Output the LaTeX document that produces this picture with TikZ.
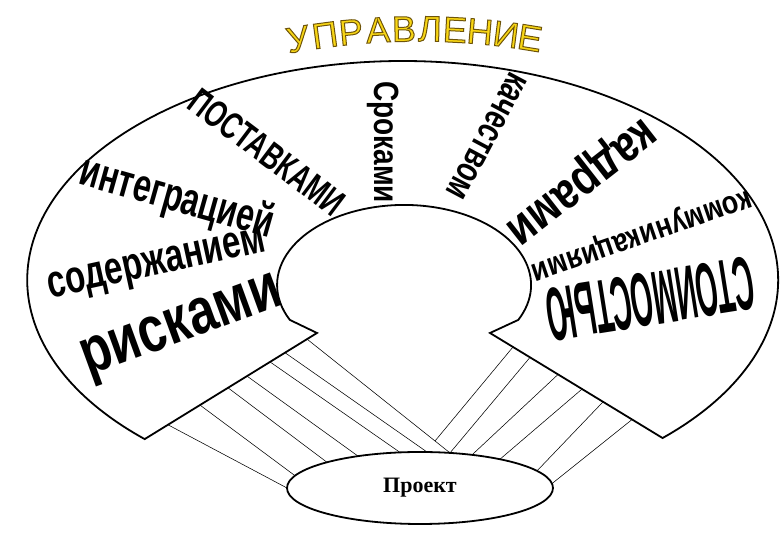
\documentclass[tikz,border=0pt]{standalone}
\usepackage{fontspec}
\setmainfont{Liberation Sans}
\newfontfamily\projfont{Liberation Serif}
\usetikzlibrary{shapes.geometric,calc}
\definecolor{titlefill}{RGB}{248,214,20}
\newcommand\vstretch[2]{\scalebox{1}[#1]{#2}}
\newcommand\outl[1]{\special{pdf:literal direct 0.43 0.33 0.04 RG 1.0 w 2 Tr}#1\special{pdf:literal direct 0 Tr}}
\begin{document}
\begin{tikzpicture}[x=1pt,y=1pt,
  shapeline/.style={line width=1.8pt, line join=miter},
  hatch/.style={line width=0.55pt},
  word/.style={inner sep=0pt, font=\bfseries\fontsize{#1}{#1}\selectfont},
  tl/.style={inner sep=0pt, font=\fontsize{36}{36}\selectfont}]
\useasboundingbox (0,0) rectangle (780,540);

% ---------- hatching (left group)
\coordinate (la1) at (168,115.2);  \coordinate (lb1) at (287,52);
\coordinate (la2) at (200,134.9);  \coordinate (lb2) at (295,64.3);
\coordinate (la3) at (228,152.2);  \coordinate (lb3) at (327,77.7);
\coordinate (la4) at (247,163.9);  \coordinate (lb4) at (358,83.9);
\coordinate (la5) at (270,178.1);  \coordinate (lb5) at (400,87.6);
\coordinate (la6) at (285,187.3);  \coordinate (lb6) at (427,88);
\coordinate (la7) at (307,200.9);  \coordinate (lb7) at (450,87.1);
% ---------- hatching (right group)
\coordinate (ra1) at (513,193);    \coordinate (rb1) at (435,99);
\coordinate (ra2) at (530,182.6);  \coordinate (rb2) at (450,87.1);
\coordinate (ra3) at (558,165.5);  \coordinate (rb3) at (472,85.1);
\coordinate (ra4) at (582,150.9);  \coordinate (rb4) at (500,80.8);
\coordinate (ra5) at (603,138.1);  \coordinate (rb5) at (537,69.1);
\coordinate (ra6) at (632,120.4);  \coordinate (rb6) at (552,56.4);
\foreach \i in {1,...,7} \draw[hatch] (la\i) -- (lb\i);
\foreach \i in {1,...,6} \draw[hatch] (ra\i) -- (rb\i);

% ---------- horseshoe shape
\draw[shapeline, fill=white] (144.7,100.9) coordinate (oL)
  arc[start angle=226.6, end angle=-46.2, x radius=375.5, y radius=219] coordinate (oR)
  -- (490,207) coordinate (iR)
  -- (518.3,220.1)
  arc[start angle=-25.9, end angle=205.9, x radius=127, y radius=80]
  -- (317,207) coordinate (iL) -- cycle;

% ---------- project
\node[draw, ellipse, line width=1.8pt, fill=white, minimum width=266pt,
      minimum height=72pt, inner sep=0pt,
      font=\projfont\bfseries\fontsize{22}{22}\selectfont] (proj) at (420,52) {Проект};

% ---------- words
\node[word=26, rotate=-37]  (w1) at (267,388) {\vstretch{1.45}{ПОСТАВКАМИ}};
\node[word=28, rotate=-90]  (w2) at (383,398) {\vstretch{1.25}{Сроками}};
\node[word=27, rotate=-118] (w3) at (487,404) {\vstretch{1.4}{качеством}};
\node[word=42, rotate=218]  (w4) at (579,361) {\vstretch{1.2}{кадрами}};
\node[word=27, rotate=199]  (w5) at (641,307) {\vstretch{1.2}{коммуникациями}};
\node[word=76, rotate=189]  (w6) at (650,241) {\scalebox{0.37}[1]{СТОИМОСТЬЮ}};
\node[word=32, rotate=-15.7] (w7) at (177,341) {\vstretch{1.45}{интеграцией}};
\node[word=33, rotate=12.3] (w8) at (157,273) {\vstretch{1.4}{содержанием}};
\node[word=50, rotate=20]   (w9) at (183,210) {\vstretch{1.3}{рисками}};

% ---------- title
\foreach \ch [count=\k] in {У,П,Р,А,В,Л,Е,Н,И,Е} {
  \pgfmathsetmacro\xx{{298,325,351,378,404,430,455,480,506,530}[\k-1]}
  \pgfmathsetmacro\dd{(\xx-418)/100}
  \pgfmathsetmacro\yy{511-100*(7-sqrt(49-\dd*\dd))}
  \pgfmathsetmacro\ang{-asin(\dd/7)}
  \node[tl, text=titlefill, rotate=\ang] (t\k) at (\xx,\yy) {\outl{\ch}};
}
\end{tikzpicture}
\end{document}
